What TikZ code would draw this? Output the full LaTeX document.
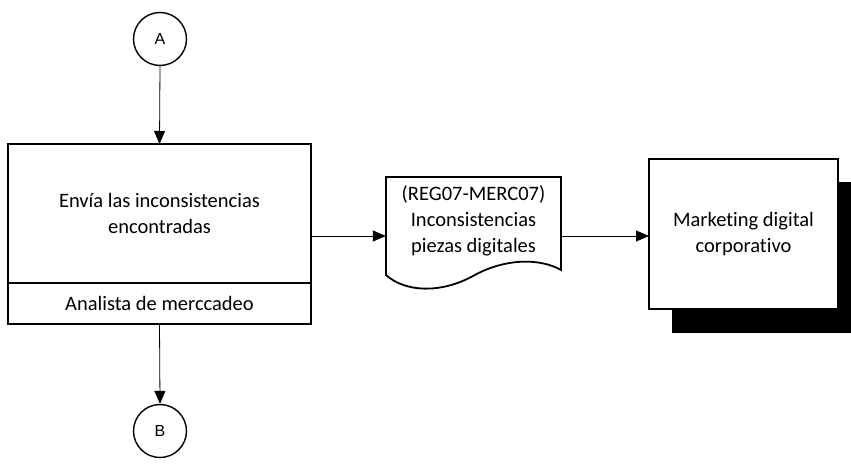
\documentclass[tikz,border=0pt]{standalone}
\usepackage{fontspec}
\setmainfont[Ligatures=NoCommon]{Carlito}
\newfontfamily\arialf{Liberation Sans}
\usetikzlibrary{arrows.meta}
\begin{document}
\begin{tikzpicture}[x=1pt,y=-1pt,
  box/.style={draw=black,line width=1.8pt,fill=white,rectangle,inner sep=0pt,outer sep=0pt,align=center,font=\fontsize{20.5}{26}\selectfont},
  conn/.style={circle,draw=black,line width=1.4pt,minimum size=53pt,inner sep=0pt,font=\arialf\fontsize{16}{18}\selectfont},
  arr/.style={draw=black,line width=0.8pt,-{Triangle[length=13pt,width=11pt]}},
  txt/.style={align=center,font=\fontsize{20.5}{26}\selectfont}]
\useasboundingbox (0,0) rectangle (851,463);
\clip (0,0) rectangle (851,463);
\fill[white] (0,0) rectangle (851,463);
% connectors A and B
\node[conn] (A) at (160,39) {A};
\node[conn] (B) at (160,431) {B};
% main activity box
\node[box,minimum width=303pt,minimum height=139pt] (main) at (159.5,213.5) {Envía las inconsistencias\\encontradas};
\node[box,minimum width=303pt,minimum height=41pt,anchor=north] (lane) at (main.south) {Analista de merccadeo};
% document shape
\draw[line width=1.8pt,fill=white] (386,275) -- (386,177) -- (561,177) -- (561,270)
  .. controls (540,258) and (505,258) .. (473,276)
  .. controls (440,294) and (405,292) .. (386,275) -- cycle;
\node[minimum width=175pt,minimum height=118pt,inner sep=0pt] (doc) at (473.5,236) {};
\node[txt] (doctext) at (473.5,221) {(REG07-MERC07)\\Inconsistencias\\piezas digitales};
% marketing box with shadow
\fill[black] (672,182) rectangle (861,333);
\node[box,minimum width=189pt,minimum height=150pt] (mk) at (743.5,234) {Marketing digital\\corporativo};
% connectors
\draw[arr] (A.south) -- (main.north);
\draw[arr] (lane.south) -- (B.north);
\draw[arr] (main.east |- doc.west) -- (doc.west);
\draw[arr] (doc.east) -- (mk.west |- doc.east);
\end{tikzpicture}
\end{document}
